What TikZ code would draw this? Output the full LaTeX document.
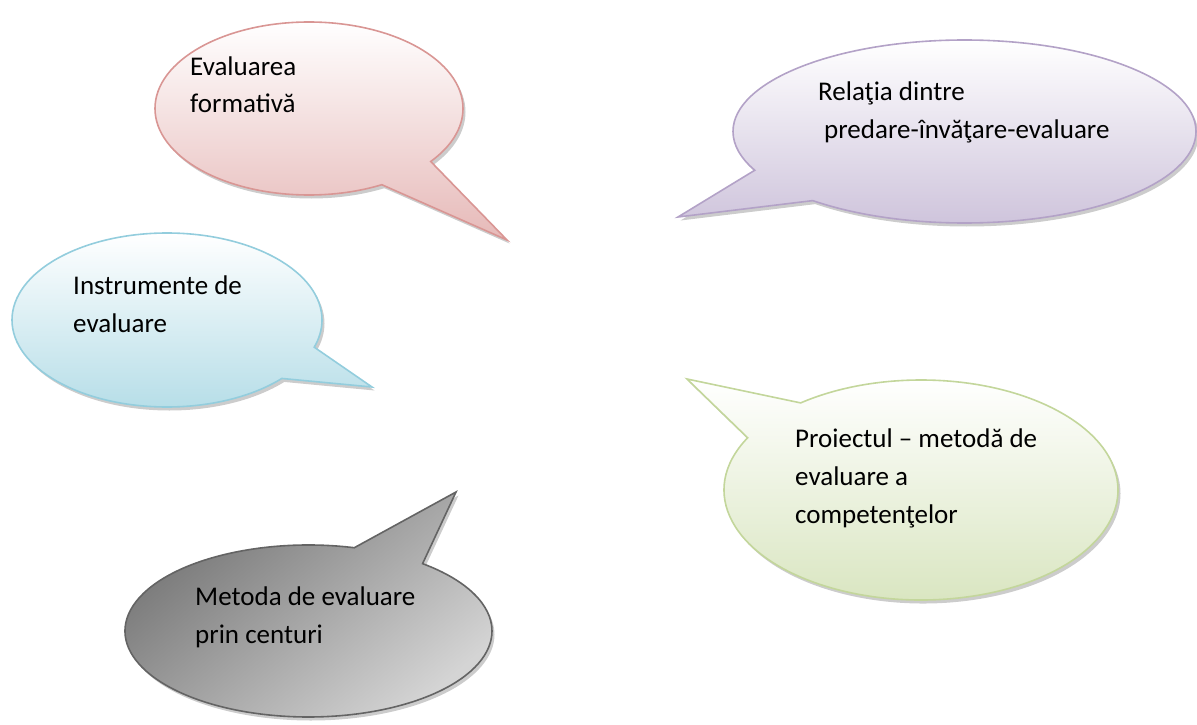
\documentclass[tikz,border=0pt]{standalone}
\usepackage{fontspec}
\setmainfont{Carlito}
\usepackage{tikz}
\usetikzlibrary{shapes.callouts, shadows, positioning}

\definecolor{rozB}{RGB}{217,150,148}
\definecolor{rozF}{RGB}{230,185,184}
\definecolor{movB}{RGB}{179,162,199}
\definecolor{movF}{RGB}{204,193,218}
\definecolor{albB}{RGB}{147,205,221}
\definecolor{albF}{RGB}{183,222,232}
\definecolor{verB}{RGB}{195,214,155}
\definecolor{verF}{RGB}{215,228,189}
\definecolor{griB}{RGB}{100,100,100}

\begin{document}
\begin{tikzpicture}[x=1pt,y=-1pt,
	bubble/.style={ellipse callout, line width=1.6pt, inner sep=0pt, outer sep=0pt,
		callout pointer arc=24,
		drop shadow={shadow xshift=2.5pt, shadow yshift=-3.5pt, fill=black!40}},
	txt/.style={anchor=base west, align=left, inner sep=0pt, font=\fontsize{27}{38}\selectfont}]
				\useasboundingbox (0,0) rectangle (1197,725);
				
				% varfurile
				\coordinate (vA) at (507,240);
				\coordinate (vB) at (678,217);
				\coordinate (vC) at (372,387);
				\coordinate (vD) at (687,379);
				\coordinate (vE) at (456,492);
				
				\node[bubble, draw=rozB, top color=white, bottom color=rozF,
					minimum width=308pt, minimum height=173pt, callout absolute pointer=(vA)] (formativa) at (309,108.5) {};
				\node[bubble, draw=movB, top color=white, bottom color=movF,
					minimum width=463pt, minimum height=183pt, callout absolute pointer=(vB)] (relatia) at (964.5,131.5) {};
				\node[bubble, draw=albB, top color=white, bottom color=albF,
					minimum width=310pt, minimum height=174pt, callout absolute pointer=(vC)] (instrumente) at (167,320) {};
				\node[bubble, draw=verB, top color=white, bottom color=verF,
					minimum width=394pt, minimum height=220pt, callout absolute pointer=(vD)] (proiectul) at (921,490) {};
				\node[bubble, draw=griB, top color=black!56, bottom color=black!17, shading angle=40,
					minimum width=367pt, minimum height=172pt, callout absolute pointer=(vE)] (centuri) at (308.5,631) {};
				
				% textele (base = ultimul rand)
				\node[txt] (tA) at (190,113) {Evaluarea\\formativă};
				\node[txt] (tB) at (818,138) {Relaţia dintre\\\hspace*{6pt}predare-învăţare-evaluare};
				\node[txt] (tC) at (73,332) {Instrumente de\\evaluare};
				\node[txt] (tD) at (795,523) {Proiectul – metodă de\\evaluare a\\competenţelor};
				\node[txt] (tE) at (195,643) {Metoda de evaluare\\prin centuri};
			\end{tikzpicture}
\end{document}
